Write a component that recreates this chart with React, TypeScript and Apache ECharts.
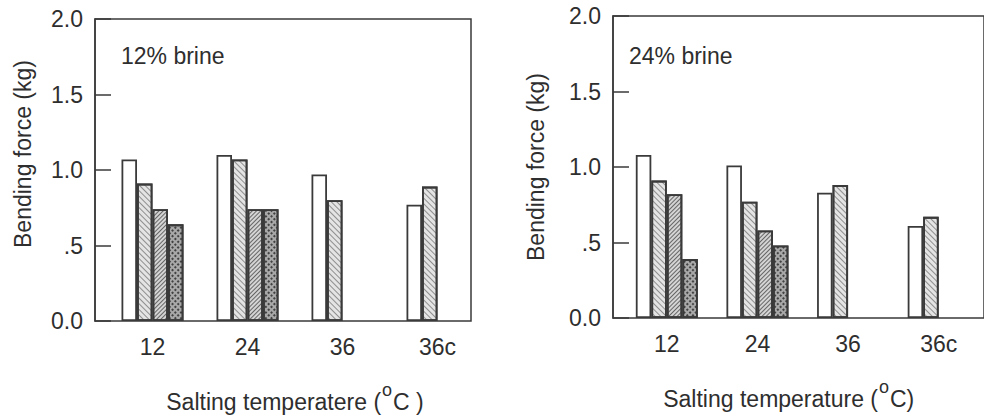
import React, { useEffect, useRef } from "react";
import * as echarts from "echarts";

const categories = ["12", "24", "36", "36c"];
const yTicks = ["0.0", ".5", "1.0", "1.5", "2.0"];

// 12% brine
const left1 = [1.07, 1.1, 0.97, 0.77];
const left2 = [0.91, 1.07, 0.8, 0.89];
const left3 = [0.74, 0.74, null, null];
const left4 = [0.64, 0.74, null, null];

// 24% brine
const right1 = [1.08, 1.01, 0.83, 0.61];
const right2 = [0.91, 0.77, 0.88, 0.67];
const right3 = [0.82, 0.58, null, null];
const right4 = [0.39, 0.48, null, null];

const FONT = "Liberation Sans, Arial, sans-serif";
const TXT = "#2e2e2e";
const LINE = "#3a3a3a";
const FS = 23;

const styles = [
  { color: "#ffffff" },
  {
    color: "#e4e4e4",
    decal: {
      symbol: "rect",
      symbolSize: 1,
      color: "rgba(70,70,70,0.55)",
      dashArrayX: [1, 0],
      dashArrayY: [1, 3],
      rotation: Math.PI / 4,
    },
  },
  {
    color: "#d4d4d4",
    decal: {
      symbol: "rect",
      symbolSize: 1,
      color: "rgba(55,55,55,0.7)",
      dashArrayX: [1, 0],
      dashArrayY: [1, 2],
      rotation: -Math.PI / 4,
    },
  },
  {
    color: "#a8a8a8",
    decal: {
      symbol: "rect",
      symbolSize: 1,
      color: "rgba(40,40,40,0.8)",
      dashArrayX: [2, 2],
      dashArrayY: [2, 2],
      rotation: Math.PI / 4,
    },
  },
];

function barSeries(data: (number | null)[], idx: number, axis: number) {
  return {
    type: "bar",
    xAxisIndex: axis,
    yAxisIndex: axis,
    data,
    barWidth: 15.5,
    barGap: "0%",
    itemStyle: {
      ...styles[idx],
      borderColor: LINE,
      borderWidth: 1.8,
    },
  };
}

function yFrameAxis(gridIndex: number, nameGap: number, padding: number[]) {
  return {
    gridIndex,
    type: "value",
    min: 0,
    max: 2,
    interval: 0.5,
    axisLine: { show: true, lineStyle: { color: LINE, width: 1.5 } },
    axisTick: { show: true, inside: true, length: 16, lineStyle: { color: LINE, width: 1.5 } },
    splitLine: { show: false },
    axisLabel: {
      fontSize: FS,
      fontFamily: FONT,
      color: TXT,
      margin: 12,
      formatter: (v: number) => yTicks[Math.round(v / 0.5)],
    },
    name: "Bending force (kg)",
    nameLocation: "middle",
    nameGap,
    nameTextStyle: { fontSize: FS, fontFamily: FONT, color: TXT, padding },
  };
}

function xBarAxis(gridIndex: number, name: string, tail: string, padding: number[]) {
  return {
    gridIndex,
    type: "category",
    data: categories,
    axisLine: { show: false },
    axisTick: { show: false },
    axisLabel: { fontSize: FS, fontFamily: FONT, color: TXT, margin: 14 },
    name: `{a|${name} (}{s|o}{a|${tail}}`,
    nameLocation: "middle",
    nameGap: 60,
    nameTextStyle: {
      fontFamily: FONT,
      color: TXT,
      padding,
      rich: {
        a: { fontSize: FS, fontFamily: FONT, color: TXT, verticalAlign: "bottom" },
        s: {
          fontSize: 18,
          fontFamily: FONT,
          color: TXT,
          verticalAlign: "bottom",
          padding: [0, 1, 14, 1],
        },
      },
    },
  };
}

export default function App() {
  const ref = useRef<HTMLDivElement>(null);
  useEffect(() => {
    if (!ref.current) return;
    const chart = echarts.init(ref.current, null, { renderer: "svg" });
    chart.setOption({
      animation: false,
      backgroundColor: "#ffffff",
      title: [
        {
          text: "12% brine",
          left: 121,
          top: 44,
          padding: 0,
          textStyle: { fontSize: FS, fontWeight: "normal", fontFamily: FONT, color: TXT },
        },
        {
          text: "24% brine",
          left: 629,
          top: 44,
          padding: 0,
          textStyle: { fontSize: FS, fontWeight: "normal", fontFamily: FONT, color: TXT },
        },
      ],
      grid: [
        { left: 95, top: 19, width: 376, height: 302, show: true, borderColor: LINE, borderWidth: 1.5, backgroundColor: "transparent" },
        { left: 105, top: 19, width: 380, height: 302, show: false },
        { left: 613, top: 16, width: 376, height: 302, show: true, borderColor: LINE, borderWidth: 1.5, backgroundColor: "transparent" },
        { left: 621.5, top: 16, width: 380, height: 302, show: false },
      ],
      xAxis: [
        { gridIndex: 0, type: "value", show: false, min: 0, max: 1 },
        xBarAxis(1, "Salting temperatere", "C )", [0, 0, 0, 0]),
        { gridIndex: 2, type: "value", show: false, min: 0, max: 1 },
        xBarAxis(3, "Salting temperature", "C)", [0, 28, 0, 0]),
      ],
      yAxis: [
        yFrameAxis(0, 61, [0, 0, 0, 32]),
        { gridIndex: 1, type: "value", min: 0, max: 2, show: false },
        yFrameAxis(2, 66, [0, 0, 0, 0]),
        { gridIndex: 3, type: "value", min: 0, max: 2, show: false },
      ],
      series: [
        barSeries(left1, 0, 1),
        barSeries(left2, 1, 1),
        barSeries(left3, 2, 1),
        barSeries(left4, 3, 1),
        barSeries(right1, 0, 3),
        barSeries(right2, 1, 3),
        barSeries(right3, 2, 3),
        barSeries(right4, 3, 3),
      ],
    });
    return () => chart.dispose();
  }, []);
  return (
    <div
      ref={ref}
      style={{ position: "fixed", left: 0, top: 0, width: 984, height: 418, background: "#fff" }}
    />
  );
}
